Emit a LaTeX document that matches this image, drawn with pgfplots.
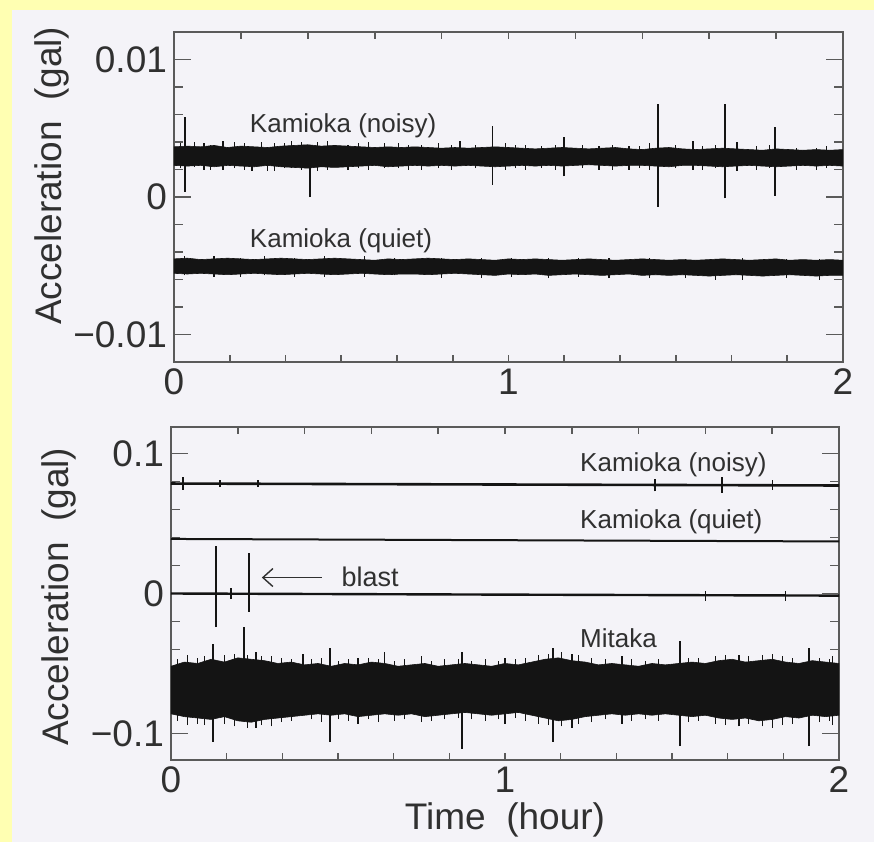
\documentclass[border=0pt]{standalone}
\usepackage{fontspec}
\setmainfont{Liberation Sans}
\usepackage{pgfplots}
\usepackage{pgfplotstable}
\pgfplotsset{compat=1.18}
\usetikzlibrary{arrows.meta}

\definecolor{frameyellow}{HTML}{FFFFB2}
\definecolor{paper}{HTML}{F4F3F8}
\definecolor{ink}{HTML}{141414}
\definecolor{axisgray}{HTML}{5A5A5A}
\definecolor{txt}{HTML}{303030}

\newcommand\tickfont{\fontsize{18.5}{20}\selectfont}
\newcommand\labfont{\fontsize{13}{14}\selectfont}

% noise bands as closed outlines: upper edge left to right, lower edge back (gal)
\pgfplotstableread{
x y
0.00 0.00365
0.04 0.00370
0.08 0.00365
0.12 0.00375
0.16 0.00360
0.20 0.00370
0.24 0.00365
0.28 0.00360
0.32 0.00370
0.36 0.00375
0.40 0.00380
0.44 0.00370
0.48 0.00375
0.52 0.00370
0.56 0.00365
0.60 0.00360
0.64 0.00365
0.68 0.00360
0.72 0.00365
0.76 0.00360
0.80 0.00355
0.84 0.00360
0.88 0.00355
0.92 0.00360
0.96 0.00365
1.00 0.00360
1.04 0.00355
1.08 0.00350
1.12 0.00355
1.16 0.00360
1.20 0.00355
1.24 0.00350
1.28 0.00355
1.32 0.00360
1.36 0.00350
1.40 0.00345
1.44 0.00355
1.48 0.00360
1.52 0.00350
1.56 0.00345
1.60 0.00350
1.64 0.00355
1.68 0.00350
1.72 0.00345
1.76 0.00340
1.80 0.00350
1.84 0.00345
1.88 0.00340
1.92 0.00345
1.96 0.00340
2.00 0.00345
2.00 0.00225
1.96 0.00230
1.92 0.00225
1.88 0.00230
1.84 0.00225
1.80 0.00220
1.76 0.00225
1.72 0.00230
1.68 0.00225
1.64 0.00220
1.60 0.00225
1.56 0.00230
1.52 0.00230
1.48 0.00220
1.44 0.00225
1.40 0.00230
1.36 0.00230
1.32 0.00225
1.28 0.00230
1.24 0.00235
1.20 0.00230
1.16 0.00225
1.12 0.00230
1.08 0.00225
1.04 0.00230
1.00 0.00225
0.96 0.00220
0.92 0.00225
0.88 0.00230
0.84 0.00225
0.80 0.00230
0.76 0.00225
0.72 0.00230
0.68 0.00225
0.64 0.00220
0.60 0.00230
0.56 0.00225
0.52 0.00220
0.48 0.00215
0.44 0.00220
0.40 0.00210
0.36 0.00215
0.32 0.00220
0.28 0.00230
0.24 0.00220
0.20 0.00225
0.16 0.00230
0.12 0.00220
0.08 0.00230
0.04 0.00225
0.00 0.00230
}\noisyband

\pgfplotstableread{
x y
0.00 -0.00450
0.04 -0.00445
0.08 -0.00455
0.12 -0.00450
0.16 -0.00445
0.20 -0.00450
0.24 -0.00455
0.28 -0.00450
0.32 -0.00445
0.36 -0.00450
0.40 -0.00455
0.44 -0.00450
0.48 -0.00445
0.52 -0.00450
0.56 -0.00455
0.60 -0.00460
0.64 -0.00450
0.68 -0.00455
0.72 -0.00450
0.76 -0.00445
0.80 -0.00450
0.84 -0.00455
0.88 -0.00450
0.92 -0.00455
0.96 -0.00460
1.00 -0.00450
1.04 -0.00455
1.08 -0.00450
1.12 -0.00455
1.16 -0.00460
1.20 -0.00455
1.24 -0.00450
1.28 -0.00455
1.32 -0.00460
1.36 -0.00455
1.40 -0.00450
1.44 -0.00455
1.48 -0.00460
1.52 -0.00455
1.56 -0.00460
1.60 -0.00455
1.64 -0.00450
1.68 -0.00455
1.72 -0.00460
1.76 -0.00455
1.80 -0.00450
1.84 -0.00460
1.88 -0.00455
1.92 -0.00460
1.96 -0.00455
2.00 -0.00460
2.00 -0.00570
1.96 -0.00570
1.92 -0.00575
1.88 -0.00570
1.84 -0.00565
1.80 -0.00570
1.76 -0.00575
1.72 -0.00570
1.68 -0.00565
1.64 -0.00570
1.60 -0.00575
1.56 -0.00570
1.52 -0.00565
1.48 -0.00570
1.44 -0.00565
1.40 -0.00570
1.36 -0.00560
1.32 -0.00565
1.28 -0.00570
1.24 -0.00565
1.20 -0.00560
1.16 -0.00565
1.12 -0.00570
1.08 -0.00560
1.04 -0.00565
1.00 -0.00560
0.96 -0.00570
0.92 -0.00565
0.88 -0.00560
0.84 -0.00555
0.80 -0.00560
0.76 -0.00565
0.72 -0.00560
0.68 -0.00560
0.64 -0.00565
0.60 -0.00560
0.56 -0.00555
0.52 -0.00560
0.48 -0.00565
0.44 -0.00560
0.40 -0.00555
0.36 -0.00560
0.32 -0.00565
0.28 -0.00560
0.24 -0.00555
0.20 -0.00560
0.16 -0.00565
0.12 -0.00560
0.08 -0.00555
0.04 -0.00560
0.00 -0.00555
}\quietband

\pgfplotstableread{
x y
0.00 -0.052
0.04 -0.049
0.08 -0.050
0.12 -0.047
0.16 -0.049
0.20 -0.046
0.24 -0.047
0.28 -0.048
0.32 -0.050
0.36 -0.049
0.40 -0.051
0.44 -0.050
0.48 -0.052
0.52 -0.050
0.56 -0.051
0.60 -0.049
0.64 -0.050
0.68 -0.052
0.72 -0.051
0.76 -0.050
0.80 -0.052
0.84 -0.051
0.88 -0.050
0.92 -0.051
0.96 -0.052
1.00 -0.050
1.04 -0.051
1.08 -0.049
1.12 -0.047
1.16 -0.046
1.20 -0.048
1.24 -0.049
1.28 -0.051
1.32 -0.050
1.36 -0.051
1.40 -0.052
1.44 -0.050
1.48 -0.051
1.52 -0.050
1.56 -0.049
1.60 -0.050
1.64 -0.048
1.68 -0.047
1.72 -0.049
1.76 -0.048
1.80 -0.047
1.84 -0.049
1.88 -0.050
1.92 -0.048
1.96 -0.049
2.00 -0.050
2.00 -0.087
1.96 -0.088
1.92 -0.087
1.88 -0.089
1.84 -0.088
1.80 -0.090
1.76 -0.091
1.72 -0.089
1.68 -0.090
1.64 -0.089
1.60 -0.087
1.56 -0.088
1.52 -0.087
1.48 -0.086
1.44 -0.087
1.40 -0.086
1.36 -0.087
1.32 -0.086
1.28 -0.087
1.24 -0.088
1.20 -0.090
1.16 -0.091
1.12 -0.089
1.08 -0.087
1.04 -0.085
1.00 -0.086
0.96 -0.087
0.92 -0.086
0.88 -0.085
0.84 -0.086
0.80 -0.087
0.76 -0.088
0.72 -0.086
0.68 -0.087
0.64 -0.086
0.60 -0.087
0.56 -0.088
0.52 -0.086
0.48 -0.087
0.44 -0.086
0.40 -0.087
0.36 -0.088
0.32 -0.089
0.28 -0.090
0.24 -0.092
0.20 -0.091
0.16 -0.088
0.12 -0.090
0.08 -0.089
0.04 -0.088
0.00 -0.086
}\mitakaband

\pgfplotsset{
  panel/.style={
    scale only axis, xmin=0, xmax=2,
    axis line style={draw=axisgray, line width=0.8pt},
    tick align=inside,
    xtick={0,1,2}, xticklabels={0,1,2},
    major x tick style={draw=none},
    scaled y ticks=false,
    minor y tick num=4,
    major tick length=8.5pt, minor tick length=4.5pt,
    every tick/.style={axisgray, line width=0.8pt},
    tick label style={font=\tickfont, text=txt},
    label style={font=\tickfont, text=txt},
    unbounded coords=jump,
  },
  xticks/.style={
    scale only axis, xmin=0, xmax=2, ymin=0, ymax=1,
    axis y line=none, axis x line*=#1,
    axis line style={draw=axisgray, line width=0.8pt},
    tick align=inside, xticklabels={},
    major tick length=3.5pt,
    every tick/.style={axisgray, line width=0.8pt},
  },
  spike/.style={ink, line width=0.7pt},
  fuzz/.style={ink, line width=0.45pt},
  band/.style={fill=ink, draw=ink, line width=0.3pt},
}

\begin{document}
\begin{tikzpicture}
\fill[frameyellow] (0,0) rectangle (437pt,-421pt);
\fill[paper] (6pt,-5pt) rectangle (437pt,-421pt);

% ---------- top panel ----------
\begin{axis}[panel, at={(87pt,-16pt)}, anchor=north west,
  width=334.5pt, height=165pt,
  ymin=-0.012, ymax=0.012,
  ytick={-0.01,0,0.01}, yticklabels={−0.01,0,0.01},
  ylabel={Acceleration~~(gal)},
  ylabel style={at={(axis description cs:-0.182,0.564)}, anchor=center},
]
\addplot[band] table[x=x,y=y]{\noisyband};
\addplot[band] table[x=x,y=y]{\quietband};
% short excursions beyond the solid bands
\addplot[fuzz] coordinates {
 (0.02,0.0021)(0.02,0.0039)(0.02,nan) (0.06,0.0022)(0.06,0.0040)(0.06,nan)
 (0.11,0.0020)(0.11,0.0038)(0.11,nan) (0.18,0.0021)(0.18,0.0040)(0.18,nan)
 (0.21,0.0020)(0.21,0.0039)(0.21,nan) (0.30,0.0019)(0.30,0.0039)(0.30,nan)
 (0.35,0.0021)(0.35,0.0041)(0.35,nan) (0.38,0.0020)(0.38,0.0040)(0.38,nan)
 (0.43,0.0019)(0.43,0.0040)(0.43,nan) (0.46,0.0020)(0.46,0.0041)(0.46,nan)
 (0.55,0.0021)(0.55,0.0039)(0.55,nan) (0.58,0.0020)(0.58,0.0040)(0.58,nan)
 (0.67,0.0021)(0.67,0.0039)(0.67,nan) (0.70,0.0020)(0.70,0.0038)(0.70,nan)
 (0.79,0.0021)(0.79,0.0039)(0.79,nan) (0.83,0.0020)(0.83,0.0038)(0.83,nan)
 (0.90,0.0021)(0.90,0.0038)(0.90,nan) (0.99,0.0020)(0.99,0.0039)(0.99,nan)
 (1.02,0.0021)(1.02,0.0038)(1.02,nan) (1.10,0.0021)(1.10,0.0037)(1.10,nan)
 (1.14,0.0020)(1.14,0.0038)(1.14,nan) (1.22,0.0021)(1.22,0.0038)(1.22,nan)
 (1.31,0.0020)(1.31,0.0038)(1.31,nan) (1.39,0.0021)(1.39,0.0037)(1.39,nan)
 (1.42,0.0020)(1.42,0.0039)(1.42,nan) (1.50,0.0021)(1.50,0.0038)(1.50,nan)
 (1.58,0.0020)(1.58,0.0037)(1.58,nan) (1.62,0.0021)(1.62,0.0038)(1.62,nan)
 (1.74,0.0020)(1.74,0.0037)(1.74,nan) (1.78,0.0021)(1.78,0.0038)(1.78,nan)
 (1.86,0.0020)(1.86,0.0036)(1.86,nan) (1.95,0.0021)(1.95,0.0037)(1.95,nan)
 (0.03,-0.0057)(0.03,-0.0043)(0.03,nan) (0.20,-0.0058)(0.20,-0.0044)(0.20,nan)
 (0.27,-0.0057)(0.27,-0.0043)(0.27,nan) (0.36,-0.0058)(0.36,-0.0044)(0.36,nan)
 (0.57,-0.0058)(0.57,-0.0043)(0.57,nan) (0.66,-0.0057)(0.66,-0.0044)(0.66,nan)
 (0.92,-0.0059)(0.92,-0.0044)(0.92,nan) (1.01,-0.0058)(1.01,-0.0044)(1.01,nan)
 (1.12,-0.0059)(1.12,-0.0044)(1.12,nan) (1.21,-0.0058)(1.21,-0.0044)(1.21,nan)
 (1.42,-0.0059)(1.42,-0.0044)(1.42,nan) (1.53,-0.0059)(1.53,-0.0045)(1.53,nan)
 (1.62,-0.0060)(1.62,-0.0045)(1.62,nan) (1.83,-0.0059)(1.83,-0.0045)(1.83,nan)
 (1.93,-0.0060)(1.93,-0.0045)(1.93,nan)
};
\addplot[spike] coordinates {
 (0.033,0.0004)(0.033,0.0058)(0.033,nan)
 (0.146,0.0020)(0.146,0.0041)(0.146,nan)
 (0.233,0.0019)(0.233,0.0030)(0.233,nan)
 (0.262,0.0030)(0.262,0.0040)(0.262,nan)
 (0.280,0.0019)(0.280,0.0030)(0.280,nan)
 (0.407,0.0000)(0.407,0.0030)(0.407,nan)
 (0.855,0.0030)(0.855,0.0041)(0.855,nan)
 (0.953,0.0009)(0.953,0.0052)(0.953,nan)
 (1.166,0.0015)(1.166,0.0044)(1.166,nan)
 (1.447,-0.0007)(1.447,0.0068)(1.447,nan)
 (1.552,0.0020)(1.552,0.0041)(1.552,nan)
 (1.647,-0.0001)(1.647,0.0068)(1.647,nan)
 (1.683,0.0019)(1.683,0.0040)(1.683,nan)
 (1.797,0.0001)(1.797,0.0051)(1.797,nan)
 (0.090,0.0020)(0.090,0.0039)(0.090,nan)
 (0.330,0.0021)(0.330,0.0039)(0.330,nan)
 (0.520,0.0020)(0.520,0.0038)(0.520,nan)
 (0.630,0.0021)(0.630,0.0039)(0.630,nan)
 (0.740,0.0020)(0.740,0.0038)(0.740,nan)
 (1.050,0.0020)(1.050,0.0038)(1.050,nan)
 (1.270,0.0020)(1.270,0.0037)(1.270,nan)
 (1.360,0.0020)(1.360,0.0037)(1.360,nan)
 (1.920,0.0020)(1.920,0.0036)(1.920,nan)
 (0.120,-0.0058)(0.120,-0.0043)(0.120,nan)
 (0.450,-0.0058)(0.450,-0.0043)(0.450,nan)
 (0.800,-0.0059)(0.800,-0.0044)(0.800,nan)
 (1.300,-0.0059)(1.300,-0.0044)(1.300,nan)
 (1.700,-0.0060)(1.700,-0.0044)(1.700,nan)
};
\node[font=\labfont, text=txt, anchor=west] at (axis cs:0.206,0.0052) {Kamioka (noisy)};
\node[font=\labfont, text=txt, anchor=west] at (axis cs:0.206,-0.0032) {Kamioka (quiet)};
\end{axis}
\begin{axis}[xticks=bottom, at={(87pt,-16pt)}, anchor=north west, width=334.5pt, height=165pt,
  xtick={0.16667,0.33333,0.5,0.66667,0.83333,1,1.16667,1.33333,1.5,1.66667,1.83333}]
\end{axis}
\begin{axis}[xticks=top, at={(87pt,-16pt)}, anchor=north west, width=334.5pt, height=165pt,
  xtick={0.2,0.4,0.6,0.8,1,1.2,1.4,1.6,1.8}]
\end{axis}

% ---------- bottom panel ----------
\begin{axis}[panel, at={(85.5pt,-213.5pt)}, anchor=north west,
  width=334pt, height=166.5pt,
  ymin=-0.119, ymax=0.119,
  ytick={-0.1,0,0.1}, yticklabels={−0.1,0,0.1},
  ylabel={Acceleration~~(gal)},
  ylabel style={at={(axis description cs:-0.168,0.49)}, anchor=center},
  xlabel={Time~~(hour)},
  xlabel style={at={(axis description cs:0.5,-0.18)}, anchor=center},
]
\addplot[band] table[x=x,y=y]{\mitakaband};
\addplot[fuzz] coordinates {
 (0.02,-0.091)(0.02,-0.047)(0.02,nan) (0.08,-0.093)(0.08,-0.046)(0.08,nan)
 (0.10,-0.094)(0.10,-0.045)(0.10,nan) (0.16,-0.093)(0.16,-0.044)(0.16,nan)
 (0.19,-0.095)(0.19,-0.043)(0.19,nan) (0.23,-0.096)(0.23,-0.044)(0.23,nan)
 (0.27,-0.094)(0.27,-0.045)(0.27,nan) (0.33,-0.092)(0.33,-0.046)(0.33,nan)
 (0.36,-0.091)(0.36,-0.047)(0.36,nan) (0.42,-0.090)(0.42,-0.047)(0.42,nan)
 (0.45,-0.092)(0.45,-0.046)(0.45,nan) (0.50,-0.090)(0.50,-0.048)(0.50,nan)
 (0.53,-0.091)(0.53,-0.047)(0.53,nan) (0.59,-0.090)(0.59,-0.046)(0.59,nan)
 (0.62,-0.092)(0.62,-0.047)(0.62,nan) (0.67,-0.091)(0.67,-0.048)(0.67,nan)
 (0.70,-0.090)(0.70,-0.047)(0.70,nan) (0.78,-0.091)(0.78,-0.048)(0.78,nan)
 (0.82,-0.090)(0.82,-0.047)(0.82,nan) (0.86,-0.089)(0.86,-0.047)(0.86,nan)
 (0.90,-0.090)(0.90,-0.048)(0.90,nan) (0.94,-0.091)(0.94,-0.047)(0.94,nan)
 (0.98,-0.090)(0.98,-0.048)(0.98,nan) (1.03,-0.089)(1.03,-0.047)(1.03,nan)
 (1.06,-0.091)(1.06,-0.046)(1.06,nan) (1.10,-0.093)(1.10,-0.044)(1.10,nan)
 (1.13,-0.094)(1.13,-0.043)(1.13,nan) (1.17,-0.095)(1.17,-0.042)(1.17,nan)
 (1.22,-0.093)(1.22,-0.044)(1.22,nan) (1.26,-0.092)(1.26,-0.046)(1.26,nan)
 (1.30,-0.090)(1.30,-0.047)(1.30,nan) (1.38,-0.091)(1.38,-0.047)(1.38,nan)
 (1.42,-0.090)(1.42,-0.048)(1.42,nan) (1.46,-0.091)(1.46,-0.047)(1.46,nan)
 (1.55,-0.092)(1.55,-0.046)(1.55,nan) (1.58,-0.091)(1.58,-0.046)(1.58,nan)
 (1.63,-0.093)(1.63,-0.045)(1.63,nan) (1.66,-0.094)(1.66,-0.044)(1.66,nan)
 (1.73,-0.093)(1.73,-0.045)(1.73,nan) (1.77,-0.095)(1.77,-0.044)(1.77,nan)
 (1.83,-0.094)(1.83,-0.045)(1.83,nan) (1.86,-0.093)(1.86,-0.046)(1.86,nan)
 (1.94,-0.092)(1.94,-0.046)(1.94,nan) (1.97,-0.091)(1.97,-0.047)(1.97,nan)
};
\addplot[ink, line width=1.3pt] coordinates {(0,0.0786)(1,0.0779)(2,0.0772)};
\addplot[ink, line width=1.0pt] coordinates {(0,0.0390)(1,0.0381)(2,0.0372)};
\addplot[ink, line width=1.2pt] coordinates {(0,0.0000)(1,-0.0008)(2,-0.0015)};
\addplot[spike] coordinates {
 (0.036,0.074)(0.036,0.083)(0.036,nan)
 (0.147,0.076)(0.147,0.081)(0.147,nan)
 (0.260,0.076)(0.260,0.081)(0.260,nan)
 (1.449,0.073)(1.449,0.082)(1.449,nan)
 (1.650,0.072)(1.650,0.083)(1.650,nan)
 (1.800,0.074)(1.800,0.081)(1.800,nan)
 (0.135,-0.024)(0.135,0.034)(0.135,nan)
 (0.234,-0.013)(0.234,0.029)(0.234,nan)
 (0.180,-0.004)(0.180,0.004)(0.180,nan)
 (1.600,-0.005)(1.600,0.002)(1.600,nan)
 (1.840,-0.005)(1.840,0.002)(1.840,nan)
 (0.126,-0.106)(0.126,-0.036)(0.126,nan)
 (0.219,-0.070)(0.219,-0.024)(0.219,nan)
 (0.254,-0.096)(0.254,-0.042)(0.254,nan)
 (0.395,-0.070)(0.395,-0.043)(0.395,nan)
 (0.476,-0.106)(0.476,-0.039)(0.476,nan)
 (0.640,-0.070)(0.640,-0.042)(0.640,nan)
 (0.871,-0.111)(0.871,-0.042)(0.871,nan)
 (1.144,-0.106)(1.144,-0.039)(1.144,nan)
 (1.524,-0.109)(1.524,-0.034)(1.524,nan)
 (1.910,-0.109)(1.910,-0.0386)(1.910,nan)
 (0.050,-0.094)(0.050,-0.044)(0.050,nan)
 (0.300,-0.095)(0.300,-0.045)(0.300,nan)
 (0.560,-0.093)(0.560,-0.046)(0.560,nan)
 (0.750,-0.092)(0.750,-0.045)(0.750,nan)
 (1.000,-0.093)(1.000,-0.046)(1.000,nan)
 (1.200,-0.096)(1.200,-0.043)(1.200,nan)
 (1.350,-0.093)(1.350,-0.045)(1.350,nan)
 (1.700,-0.095)(1.700,-0.044)(1.700,nan)
 (1.800,-0.096)(1.800,-0.043)(1.800,nan)
 (1.980,-0.094)(1.980,-0.045)(1.980,nan)
};
\draw[-{Straight Barb[length=5pt,width=9pt]}, txt, line width=0.7pt] (axis cs:0.452,0.0114) -- (axis cs:0.272,0.0114);
\node[font=\fontsize{13.5}{14}\selectfont, text=txt, anchor=west] at (axis cs:0.49,0.0120) {blast};
\node[font=\labfont, text=txt, anchor=west] at (axis cs:1.204,0.0920) {Kamioka (noisy)};
\node[font=\labfont, text=txt, anchor=west] at (axis cs:1.204,0.0514) {Kamioka (quiet)};
\node[font=\labfont, text=txt, anchor=west] at (axis cs:1.204,-0.0320) {Mitaka};
\end{axis}
\begin{axis}[xticks=bottom, at={(85.5pt,-213.5pt)}, anchor=north west, width=334pt, height=166.5pt,
  xtick={0.16667,0.33333,0.5,0.66667,0.83333,1,1.16667,1.33333,1.5,1.66667,1.83333}]
\end{axis}
\begin{axis}[xticks=top, at={(85.5pt,-213.5pt)}, anchor=north west, width=334pt, height=166.5pt,
  xtick={0.2,0.4,0.6,0.8,1,1.2,1.4,1.6,1.8}]
\end{axis}

\pgfresetboundingbox
\useasboundingbox (0,0) rectangle (437pt,-421pt);
\end{tikzpicture}
\end{document}
